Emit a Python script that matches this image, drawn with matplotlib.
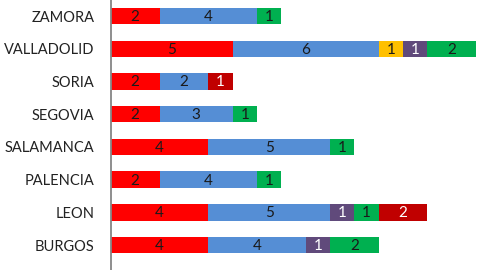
import numpy as np
import matplotlib.pyplot as plt

provinces = ["ZAMORA", "VALLADOLID", "SORIA", "SEGOVIA", "SALAMANCA", "PALENCIA", "LEON", "BURGOS"]
red = [2, 5, 2, 2, 4, 2, 4, 4]
blue = [4, 6, 2, 3, 5, 4, 5, 4]
yellow = [0, 1, 0, 0, 0, 0, 0, 0]
purple = [0, 1, 0, 0, 0, 0, 1, 1]
green = [1, 2, 0, 1, 1, 1, 1, 2]
darkred = [0, 0, 1, 0, 0, 0, 2, 0]

series = [red, blue, yellow, purple, green, darkred]
colors = ["#FF0000", "#558ED5", "#FFC000", "#604A7B", "#00B050", "#C00000"]
text_colors = ["#1a1a1a", "#1a1a1a", "#1a1a1a", "white", "#1a1a1a", "white"]

plt.rcParams['font.family'] = ['Lato', 'DejaVu Sans']

fig = plt.figure(figsize=(4.8, 2.7), dpi=100)
ax = fig.add_axes([0.231, 0, 0.769, 1])

y = np.arange(len(provinces))[::-1]
left = np.zeros(len(provinces))
for vals, col, tcol in zip(series, colors, text_colors):
    vals = np.array(vals, dtype=float)
    bars = ax.barh(y, vals, left=left, height=0.5, color=col, linewidth=0)
    for b, v in zip(bars, vals):
        if v > 0:
            ax.text(b.get_x() + b.get_width() / 2, b.get_y() + b.get_height() / 2 - 0.03,
                    f"{int(v)}", ha="center", va="center", color=tcol, fontsize=11)
    left += vals

ax.set_xlim(0, 15.16)
ax.set_ylim(-0.76, 7.49)
ax.set_yticks(y)
ax.set_yticklabels(provinces, fontsize=10.5, color="#222222")
ax.set_xticks([])
ax.tick_params(axis="y", length=0, pad=12)
for s in ["top", "right", "bottom"]:
    ax.spines[s].set_visible(False)
ax.spines["left"].set_color("#868686")
ax.spines["left"].set_linewidth(1.3)

plt.savefig("out.png", dpi=100)
